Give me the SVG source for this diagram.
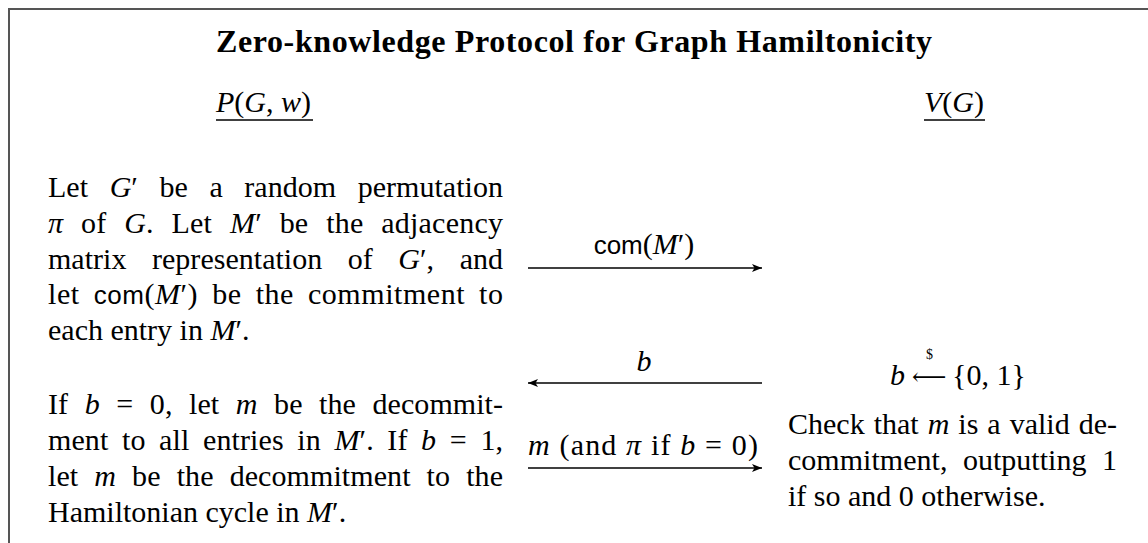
<svg xmlns="http://www.w3.org/2000/svg" width="1148" height="543" viewBox="0 0 1148 543">
<style>
text{font-family:"Liberation Serif","Times New Roman",serif;font-size:30px;fill:#000}
.t{font-weight:bold;font-size:32px}
.i{font-style:italic}
.sf{font-family:"Liberation Sans",Arial,sans-serif;font-size:26px}
.arr{stroke:#000;stroke-width:1.3;fill:none}
.ul{stroke:#000;stroke-width:1.3}
.frame{stroke:#555;stroke-width:2;fill:none}
</style>
<defs>
<marker id="ah" viewBox="0 0 10 8" refX="10" refY="4" markerWidth="10" markerHeight="8" markerUnits="userSpaceOnUse" orient="auto-start-reverse">
<path d="M0,0 L10,4 L0,8 L2.5,4 Z" fill="#000"/>
</marker>
</defs>
<rect width="1148" height="543" fill="#fff"/>
<path class="frame" d="M9,543 V9 H1148"/>
<g id="title"><text class="t" x="216" y="52" textLength="716" lengthAdjust="spacing">Zero-knowledge Protocol for Graph Hamiltonicity</text></g>
<g id="prover">
<text x="216" y="112"><tspan class="i">P</tspan>(<tspan class="i">G</tspan>, <tspan class="i">w</tspan>)</text>
<line class="ul" x1="216" y1="120" x2="313" y2="120"/>
</g>
<g id="verifier">
<text x="924" y="112"><tspan class="i">V</tspan>(<tspan class="i">G</tspan>)</text>
<line class="ul" x1="924" y1="120" x2="985" y2="120"/>
</g>
<g id="prover-step1">
<text x="48" y="197" textLength="455" lengthAdjust="spacing" word-spacing="14">Let <tspan class="i">G</tspan>′ be a random permutation</text>
<text x="48" y="233" textLength="455" lengthAdjust="spacing" word-spacing="10"><tspan class="i">π</tspan> of <tspan class="i">G</tspan>.  Let <tspan class="i">M</tspan>′ be the adjacency</text>
<text x="48" y="268.5" textLength="455" lengthAdjust="spacing" word-spacing="18">matrix representation of <tspan class="i">G</tspan>′, and</text>
<text x="48" y="304" textLength="455" lengthAdjust="spacing" word-spacing="6">let <tspan class="sf">com</tspan>(<tspan class="i">M</tspan>′) be the commitment to</text>
<text x="48" y="340">each entry in <tspan class="i">M</tspan>′.</text>
</g>
<g id="prover-step2">
<text x="48" y="414" textLength="455" lengthAdjust="spacing" word-spacing="9">If <tspan class="i">b</tspan> = 0, let <tspan class="i">m</tspan> be the decommit-</text>
<text x="48" y="450" textLength="455" lengthAdjust="spacing" word-spacing="6">ment to all entries in <tspan class="i">M</tspan>′. If <tspan class="i">b</tspan> = 1,</text>
<text x="48" y="486" textLength="455" lengthAdjust="spacing" word-spacing="8.5">let <tspan class="i">m</tspan> be the decommitment to the</text>
<text x="48" y="522">Hamiltonian cycle in <tspan class="i">M</tspan>′.</text>
</g>
<g id="verifier-step1">
<text x="890" y="385" class="i">b</text>
<text x="912" y="385" style="font-family:'DejaVu Serif',serif;font-size:24px">⟵</text>
<text x="926" y="359" style="font-size:14px">$</text>
<text x="952" y="385">{0, 1}</text>
</g>
<g id="verifier-step2">
<text x="788" y="434" textLength="329" lengthAdjust="spacing" word-spacing="1.5">Check that <tspan class="i">m</tspan> is a valid de-</text>
<text x="788" y="470" textLength="329" lengthAdjust="spacing" word-spacing="8">commitment, outputting 1</text>
<text x="788" y="506">if so and 0 otherwise.</text>
</g>
<g id="connectors">
<line class="arr" x1="528" y1="268" x2="762" y2="268" marker-end="url(#ah)"/>
<text x="644" y="254" text-anchor="middle"><tspan class="sf">com</tspan>(<tspan class="i">M</tspan>′)</text>
<line class="arr" x1="762" y1="383" x2="528" y2="383" marker-end="url(#ah)"/>
<text x="644" y="371" text-anchor="middle" class="i">b</text>
<line class="arr" x1="528" y1="468" x2="762" y2="468" marker-end="url(#ah)"/>
<text x="528" y="455" textLength="230" lengthAdjust="spacing"><tspan class="i">m</tspan> (and <tspan class="i">π</tspan> if <tspan class="i">b</tspan> = 0)</text>
</g>
</svg>
